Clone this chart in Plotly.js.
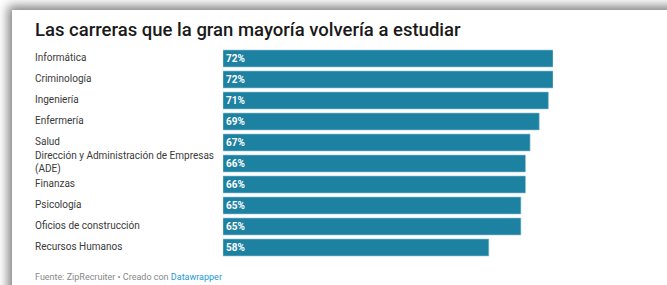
<!DOCTYPE html>
<html>
<head>
<meta charset="utf-8">
<script src="https://cdn.plot.ly/plotly-3.0.1.min.js"></script>
<style>
  html, body { margin: 0; padding: 0; width: 667px; height: 285px; overflow: hidden; background: #fff; }
  #bg { position: absolute; left: 0; top: 0; width: 667px; height: 285px; background: #fff; }
  #card { position: absolute; left: 12px; top: 10px; width: 700px; height: 300px; background: #fff; box-shadow: -4px -4px 10px rgba(0,0,0,0.5); }
  #chart { position: absolute; left: 0; top: 0; width: 667px; height: 285px; }
</style>
</head>
<body>
<div id="bg"></div>
<div id="card"></div>
<div id="chart"></div>
<script>
const categories = [
  "Informática",
  "Criminología",
  "Ingeniería",
  "Enfermería",
  "Salud",
  "Dirección y Administración de Empresas<br>(ADE)",
  "Finanzas",
  "Psicología",
  "Oficios de construcción",
  "Recursos Humanos"
];
const values = [72, 72, 71, 69, 67, 66, 66, 65, 65, 58];
const valueLabels = values.map(v => v + "%");

const W = 667, H = 285;
const plotLeft = 223, plotRight = 553;
const plotTop = 48, plotBottom = 258.5;

const trace = {
  type: "bar",
  orientation: "h",
  y: categories,
  x: values,
  text: valueLabels,
  textposition: "inside",
  insidetextanchor: "start",
  textangle: 0,
  textfont: { family: "Roboto, sans-serif", size: 10, color: "#ffffff", weight: 700 },
  marker: { color: "#1d81a2", line: { color: "#9cc7d6", width: 0.6 } },
  hoverinfo: "none",
  cliponaxis: false
};

const labelX = (33 - plotLeft) / (plotRight - plotLeft);
const labelAnnotations = categories.map(c => ({
  text: c,
  x: labelX,
  xref: "paper",
  xanchor: "left",
  y: c,
  yref: "y",
  yanchor: "middle",
  yshift: 1,
  align: "left",
  showarrow: false,
  font: { family: "Roboto, sans-serif", size: 10, color: "#3a3a3a" }
}));

const footer = {
  text: "Fuente: ZipRecruiter • Creado con <span style='color:#1d9ad6'>Datawrapper</span>",
  x: labelX,
  xref: "paper",
  xanchor: "left",
  y: -(278 - plotBottom) / (plotBottom - plotTop),
  yref: "paper",
  yanchor: "middle",
  showarrow: false,
  font: { family: "Roboto, sans-serif", size: 9, color: "#888888" }
};

const layout = {
  width: W,
  height: H,
  paper_bgcolor: "rgba(0,0,0,0)",
  plot_bgcolor: "rgba(0,0,0,0)",
  margin: { l: plotLeft, r: W - plotRight, t: plotTop, b: H - plotBottom, pad: 0 },
  bargap: 0.19,
  showlegend: false,
  title: {
    text: "Las carreras que la gran mayoría volvería a estudiar",
    x: 35 / W,
    xref: "container",
    xanchor: "left",
    y: 1 - 29.5 / H,
    yref: "container",
    yanchor: "middle",
    font: { family: "Roboto, sans-serif", size: 18.5, color: "#1a1a1a", weight: 500 }
  },
  xaxis: {
    range: [0, 72],
    showgrid: false,
    zeroline: false,
    showticklabels: false,
    ticks: "",
    fixedrange: true
  },
  yaxis: {
    type: "category",
    autorange: "reversed",
    showgrid: false,
    zeroline: false,
    showticklabels: false,
    ticks: "",
    fixedrange: true
  },
  annotations: labelAnnotations.concat([footer])
};

Plotly.newPlot("chart", [trace], layout, { displayModeBar: false, staticPlot: true });
</script>
</body>
</html>
